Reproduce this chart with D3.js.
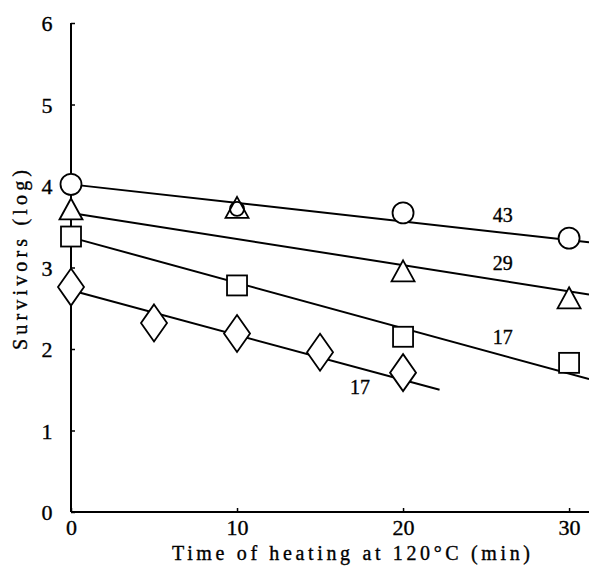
<!DOCTYPE html>
<html>
<head>
<meta charset="utf-8">
<script src="https://cdn.jsdelivr.net/npm/d3@7/dist/d3.min.js"></script>
<style>
  html, body { margin: 0; padding: 0; background: #fff; }
  svg { display: block; }
  text { font-family: "Liberation Serif", "DejaVu Serif", serif; fill: #000; stroke: #000; stroke-width: 0.35px; }
</style>
</head>
<body>
<svg id="chart" width="589" height="572"></svg>
<script>
// Heating times (min) and log survivors for each series
const times = [0, 10, 20, 30];
const circleVals = [4.02, 3.72, 3.67, 3.36];
const triangleVals = [3.70, 3.72, 2.94, 2.61];
const squareVals = [3.38, 2.78, 2.15, 1.83];
const diamondTimes = [0, 5, 10, 15, 20];
const diamondVals = [2.76, 2.32, 2.19, 1.96, 1.71];

// Regression lines: [startTime, startLog, endTime, endLog]
const circleFit = [0, 4.02, 31.2, 3.31];
const triangleFit = [0, 3.67, 31.2, 2.67];
const squareFit = [0, 3.37, 31.2, 1.63];
const diamondFit = [0, 2.72, 22.2, 1.50];

// Line annotations: [time, log, text]
const lineLabels = [
  [26, 3.64, "43"],
  [26, 3.055, "29"],
  [26, 2.15, "17"],
  [17.4, 1.53, "17"]
];

const xTicks = [0, 10, 20, 30];
const yTicks = [0, 1, 2, 3, 4, 5, 6];

const svg = d3.select("#chart");
const x = d3.scaleLinear().domain([0, 31.2]).range([71, 589]);
const y = d3.scaleLinear().domain([0, 6]).range([512, 23]);

// Axes
const yAxis = d3.axisLeft(y).tickValues(yTicks).tickSize(-4).tickPadding(17).tickFormat(d3.format("d"));
const xAxis = d3.axisBottom(x).tickValues(xTicks).tickSize(-4).tickPadding(6).tickFormat(d3.format("d"));

const gy = svg.append("g").attr("transform", `translate(${x(0)},0)`).call(yAxis);
const gx = svg.append("g").attr("transform", `translate(0,${y(0)})`).call(xAxis);
[gy, gx].forEach(g => {
  g.select(".domain").attr("stroke", "#000").attr("stroke-width", 2);
  g.selectAll(".tick line").attr("stroke", "#000").attr("stroke-width", 1.5);
  g.selectAll(".tick text").attr("font-size", 22).attr("font-family", "Liberation Serif").attr("fill", "#000");
});
gy.select(".domain").attr("d", `M0,${y(6)}V${y(0)}`);
gx.select(".domain").attr("d", `M${x(0)},0H${x(31.2)}`);
gx.selectAll(".tick text").attr("dy", "0.75em");
gy.selectAll(".tick text").attr("dy", "0.35em").attr("text-anchor", "middle").attr("x", -24);

// Fitted lines
const fits = [circleFit, triangleFit, squareFit, diamondFit];
svg.append("g").selectAll("line").data(fits).join("line")
  .attr("x1", d => x(d[0])).attr("y1", d => y(d[1]))
  .attr("x2", d => x(d[2])).attr("y2", d => y(d[3]))
  .attr("stroke", "#000").attr("stroke-width", 2);

// Markers
const mk = svg.append("g").attr("fill", "#fff").attr("stroke", "#000").attr("stroke-width", 1.8);

mk.selectAll("rect.sq").data(times.map((t, i) => [t, squareVals[i]])).join("rect")
  .attr("class", "sq")
  .attr("x", d => x(d[0]) - 10).attr("y", d => y(d[1]) - 10)
  .attr("width", 20).attr("height", 20);

mk.selectAll("path.dm").data(diamondTimes.map((t, i) => [t, diamondVals[i]])).join("path")
  .attr("class", "dm")
  .attr("d", d => {
    const cx = x(d[0]), cy = y(d[1]);
    return `M${cx},${cy - 18.5}L${cx + 13},${cy}L${cx},${cy + 18.5}L${cx - 13},${cy}Z`;
  });

mk.selectAll("path.tr").data(times.map((t, i) => [t, triangleVals[i]])).join("path")
  .attr("class", "tr")
  .attr("d", d => {
    const cx = x(d[0]), cy = y(d[1]);
    return `M${cx},${cy - 12}L${cx + 11.5},${cy + 9}L${cx - 11.5},${cy + 9}Z`;
  });

mk.selectAll("circle.ci").data(times.map((t, i) => [t, circleVals[i]])).join("circle")
  .attr("class", "ci")
  .attr("cx", d => x(d[0])).attr("cy", d => y(d[1]))
  .attr("r", d => d[0] === 10 ? 7 : 10.5)
  .attr("fill", d => d[0] === 10 ? "none" : "#fff");

// Line annotations
svg.append("g").selectAll("text").data(lineLabels).join("text")
  .attr("x", d => x(d[0])).attr("y", d => y(d[1]))
  .attr("dy", "0.35em").attr("text-anchor", "middle")
  .attr("font-size", 20)
  .text(d => d[2]);

// Axis titles
svg.append("text")
  .attr("x", 351).attr("y", 560)
  .attr("text-anchor", "middle")
  .attr("font-size", 20)
  .attr("textLength", 358).attr("lengthAdjust", "spacing")
  .text("Time of heating at 120°C (min)");

svg.append("text")
  .attr("transform", "translate(27,260) rotate(-90)")
  .attr("text-anchor", "middle")
  .attr("font-size", 20)
  .attr("textLength", 180).attr("lengthAdjust", "spacing")
  .text("Survivors (log)");
</script>
</body>
</html>
